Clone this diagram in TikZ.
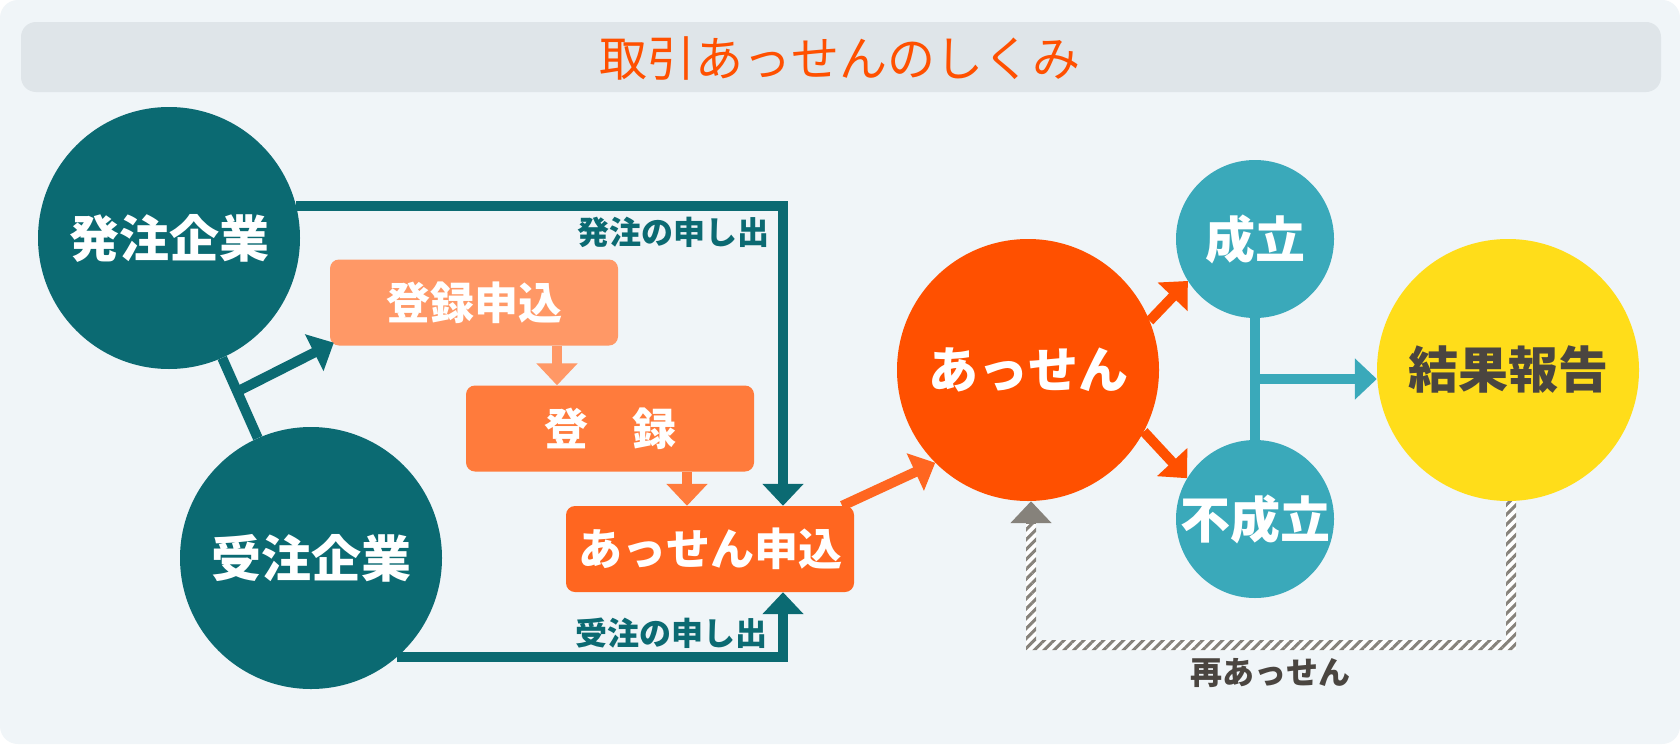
\documentclass[tikz,border=0pt]{standalone}
\usepackage{fontspec}
\newfontfamily\jp{Noto Sans CJK JP}
\usepackage{tikz}
\usetikzlibrary{arrows.meta,positioning,calc,patterns.meta}

\definecolor{bgpale}{HTML}{F0F5F8}
\definecolor{bargray}{HTML}{DFE5E9}
\definecolor{firmteal}{HTML}{0B6A72}
\definecolor{aquablue}{HTML}{3AA9BA}
\definecolor{sunyellow}{HTML}{FFDD1A}
\definecolor{assenorange}{HTML}{FF5000}
\definecolor{boxone}{HTML}{FF9866}
\definecolor{boxtwo}{HTML}{FF7B3C}
\definecolor{boxthree}{HTML}{FF6620}
\definecolor{inkgray}{HTML}{4A4540}
\definecolor{stripegray}{HTML}{86827B}

\begin{document}
\begin{tikzpicture}[
  x=1pt, y=-1pt,
  firm/.style={
    circle, inner sep=0pt,
    minimum size=262pt,
    fill=#1, text=white,
    font=\jp\bfseries\fontsize{50}{60}\selectfont
  },
  outcome/.style={
    circle, inner sep=0pt,
    minimum size=158pt,
    fill=aquablue, text=white,
    font=\jp\bfseries\fontsize{50}{60}\selectfont
  },
  stepbox/.style={
    rectangle, rounded corners=9pt, inner sep=0pt,
    minimum width=288pt, minimum height=86pt,
    fill=#1, text=white,
    font=\jp\bfseries\fontsize{44}{52}\selectfont
  },
  note/.style={font=\jp\bfseries\fontsize{32}{38}\selectfont},
  flow/.style={
    draw=#1, line width=10pt,
    -{Triangle[length=22pt,width=40pt]}
  }]

\useasboundingbox (0,0) rectangle (1680,744);

% panel and title
\fill[white] (0,0) rectangle (1680,744);
\fill[bgpale, rounded corners=18pt] (0,0) rectangle (1680,744);
\fill[bargray, rounded corners=15pt] (21,22) rectangle (1661,92);
\node[font=\jp\fontsize{48}{58}\selectfont, text=assenorange] (title)
  at (840,58) {取引あっせんのしくみ};

% companies
\node[firm=firmteal] (hatchu) at (169,238) {発注企業};
\node[firm=firmteal] (juchu) at (311,558) {受注企業};

% application steps
\node[stepbox=boxone] (apply) at (474,302.5) {登録申込};
\node[stepbox=boxtwo] (reg) at (610,428.5) {登　録};
\node[stepbox=boxthree] (entry) at (710,549) {あっせん申込};

% mediation and outcomes
\node[firm=assenorange] (assen) at (1028,370) {あっせん};
\node[outcome] (ok) at (1255,239) {成立};
\node[outcome] (ng) at (1255,519) {不成立};
\node[firm=sunyellow, text=inkgray] (report) at (1508,370) {結果報告};

% companies -> registration
\draw[firmteal, line width=10pt] (hatchu) -- (juchu);
\coordinate (fork) at ($(hatchu)!0.48!(juchu)$);
\draw[flow=firmteal] (fork) -- ([shift={(4,-3)}]apply.south west);

% registration steps
\coordinate (a1) at ([xshift=83pt]apply.south);
\draw[flow=boxone] (a1) -- (a1 |- reg.north);
\coordinate (a2) at ([xshift=77pt]reg.south);
\draw[flow=boxtwo] (a2) -- (a2 |- entry.north);

% requests from the companies
\coordinate (c1) at ([xshift=73pt]entry.north);
\coordinate (c2) at ([xshift=73pt]entry.south);
\draw[flow=firmteal] (hatchu.14) -| (c1);
\node[note, text=firmteal, anchor=east] (hlabel) at (773,232) {発注の申し出};
\draw[flow=firmteal] (juchu.-49) -| (c2);
\node[note, text=firmteal, anchor=east] (jlabel) at (771,633) {受注の申し出};

% entry -> mediation -> outcomes
\draw[flow=boxthree] ([xshift=-12pt]entry.north east) -- (assen.225);
\draw[flow=assenorange] (assen.22) -- (ok.212);
\draw[flow=assenorange] (assen.-28) -- (ng.149);

% outcomes -> report
\draw[aquablue, line width=10pt] (ok) -- (ng);
\coordinate (mid) at ($(ok)!0.5!(ng)$);
\draw[flow=aquablue] (mid) -- (mid -| report.west);

% re-mediation loop
\coordinate (r1) at ([xshift=3pt]report.south);
\coordinate (r2) at (r1 |- 0,645);
\coordinate (r3) at ([xshift=3pt]assen.south);
\coordinate (r4) at (r3 |- 0,645);
\path[fill=white,
  postaction={pattern={Lines[angle=45,distance=7pt,line width=3pt]},
    pattern color=stripegray}]
  ([shift={(-5,0)}]r1) rectangle ([shift={(5,5)}]r2)
  ([shift={(-5,-5)}]r4) rectangle ([shift={(5,5)}]r2)
  ([shift={(-5,22)}]r3) rectangle ([shift={(5,5)}]r4);
\draw[flow=stripegray] ([shift={(0,23)}]r3) -- (r3);
\node[note, text=inkgray] (relabel) at (1270,673) {再あっせん};

\end{tikzpicture}
\end{document}
